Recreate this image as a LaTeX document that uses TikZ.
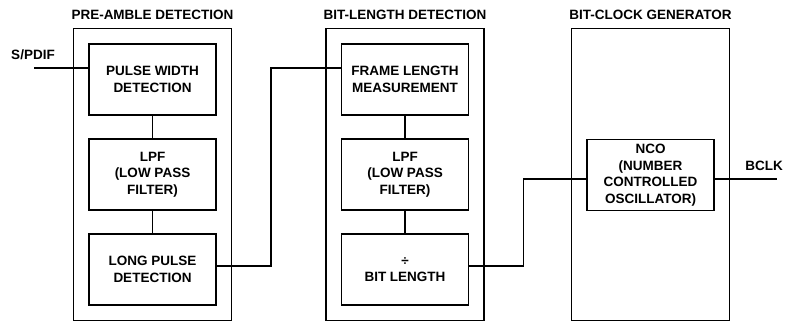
\documentclass[tikz,border=0pt]{standalone}
\usepackage{fontspec}
\setmainfont{Liberation Sans}
\usetikzlibrary{positioning, fit}
\newcommand{\blocktext}{\fontsize{13.5}{16.5}\selectfont\bfseries}
\tikzset{
  stage/.style={rectangle, draw, line width=1.3pt, outer sep=0pt, inner sep=0pt,
                minimum width=127pt, minimum height=71pt, align=center,
                font=\blocktext},
  group/.style={rectangle, draw, line width=1.4pt, outer sep=0pt, inner sep=15.5pt},
  grouptitle/.style={inner sep=0pt, outer sep=0pt, font=\blocktext},
  sigtext/.style={inner sep=0pt, font=\blocktext},
  wire/.style={line width=1.4pt},
}

\begin{document}
\begin{tikzpicture}[x=1pt, y=-1pt, node distance=24pt]
  \useasboundingbox (0,0) rectangle (787,322);

  % --- Pre-amble detection ---
  \node[stage] (pw) at (152.5,79.5) {PULSE WIDTH\\DETECTION};
  \node[stage, below=of pw] (lpf1) {LPF\\(LOW PASS\\FILTER)};
  \node[stage, below=of lpf1] (lp) {LONG PULSE\\DETECTION};

  % --- Bit-length detection ---
  \node[stage] (fl) at (405,79.5) {FRAME LENGTH\\MEASUREMENT};
  \node[stage, below=of fl] (lpf2) {LPF\\(LOW PASS\\FILTER)};
  \node[stage, below=of lpf2] (bl) {\char"00F7\\BIT LENGTH};

  % --- Bit-clock generator ---
  \node[stage] (nco) at (650.5,175) {NCO\\(NUMBER\\CONTROLLED\\OSCILLATOR)};

  % --- Group boxes ---
  \node[group, fit=(pw)(lp)] (pre) {};
  \node[group, fit=(fl)(bl)] (bitlen) {};
  \node[group, inner ysep=0pt, fit=(nco)(nco |- bitlen.north)(nco |- bitlen.south)] (clkgen) {};
  \node[grouptitle, above=8.5pt of pre] (pretitle) {PRE-AMBLE DETECTION};
  \node[grouptitle, above=8.5pt of bitlen] (bitlentitle) {BIT-LENGTH DETECTION};
  \node[grouptitle, above=8.5pt of clkgen] (clkgentitle) {BIT-CLOCK GENERATOR};

  % --- Signals ---
  \coordinate (spdif) at (34,68);
  \coordinate (bclk) at (777,179);
  \node[sigtext] (spdiflabel) at (33,55) {S/PDIF};
  \node[sigtext] (bclklabel) at (764,166) {BCLK};

  % --- Wires ---
  \draw[wire] (spdif) -- (spdif -| pw.west);
  \draw[wire] (pw) -- (lpf1);
  \draw[wire] (lpf1) -- (lp);
  \draw[wire] ([yshift=3.5pt]lp.east) -- ++(55,0) |- ([yshift=11.5pt]fl.west);
  \draw[wire] (fl) -- (lpf2);
  \draw[wire] (lpf2) -- (bl);
  \draw[wire] ([yshift=3.5pt]bl.east) -- ++(55,0) |- ([yshift=-4pt]nco.west);
  \draw[wire] ([yshift=-4pt]nco.east) -- (bclk);
\end{tikzpicture}
\end{document}
